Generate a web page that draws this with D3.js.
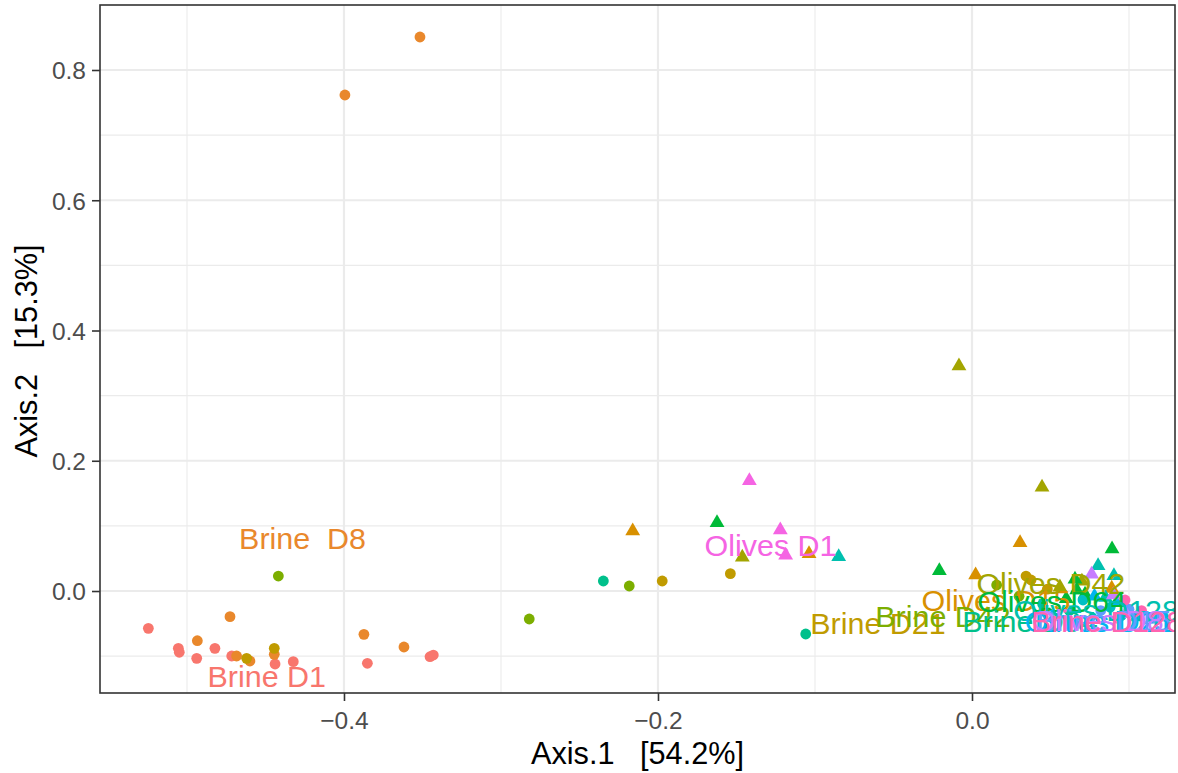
<!DOCTYPE html>
<html>
<head>
<meta charset="utf-8">
<script src="https://cdn.jsdelivr.net/npm/d3@7"></script>
<style>
  html, body { margin: 0; padding: 0; background: #ffffff; }
  svg { display: block; font-family: "Liberation Sans", Arial, Helvetica, sans-serif; }
</style>
</head>
<body>
<svg id="chart" width="1178" height="773"></svg>
<script>
// ---------------- data ----------------
const groupNames = ["Brine D1", "Brine D8", "Olives D15", "Brine D21", "Olives D42", "Brine D42",
  "Olives D64", "Brine D64", "Olives D128", "Brine D28", "Olives D21", "Brine D15",
  "Olives D8", "Olives D1", "Brine D128"];

const brineD1 = [[-0.5246,-0.0573],[-0.5055,-0.0880],[-0.5049,-0.0940],[-0.4938,-0.1034],[-0.4822,-0.0880],
  [-0.4715,-0.0998],[-0.4439,-0.1121],[-0.4323,-0.1085],[-0.3851,-0.1110],[-0.3452,-0.1009],[-0.3431,-0.0983]];
const brineD8 = [[-0.3994,0.7616],[-0.3516,0.8507],[-0.4726,-0.0394],[-0.4934,-0.0763],[-0.4684,-0.0998],
  [-0.4599,-0.1075],[-0.4444,-0.0972],[-0.3873,-0.0665],[-0.3618,-0.0860]];
const olivesD15 = [[-0.2161,0.0921],[-0.1038,0.0573],[0.0306,0.0742],[0.0023,0.0246],[0.0890,0.0040]];
const brineD21 = [[-0.4620,-0.1034],[-0.4444,-0.0880],[-0.1973,0.0154],[-0.1539,0.0266],[0.0344,0.0230],[0.0376,0.0169],[0.0480,0.0030]];
const olivesD42 = [[-0.1463,0.0517],[-0.0083,0.3455],[0.0446,0.1592],[0.0700,0.0150],[0.0560,0.0060]];
const brineD42 = [[-0.4418,0.0230],[-0.2183,0.0077],[-0.2820,-0.0430],[0.0157,0.0092],[0.0300,-0.0080]];
const olivesD64 = [[-0.1624,0.1049],[0.0892,0.0645],[-0.0208,0.0312],[0.0656,0.0180],[0.0667,0.0015],[0.0720,-0.0050],[0.0600,-0.0120]];
const brineD64 = [[-0.2348,0.0154],[-0.1059,-0.0660],[0.0450,-0.0200],[0.0620,-0.0300]];
const olivesD128 = [[-0.0849,0.0527],[0.0803,0.0389],[0.0904,0.0235],[0.0850,-0.0100]];
const brineD28 = [[0.0707,-0.0138],[0.0880,-0.0250],[0.0950,-0.0380]];
const olivesD21 = [[0.0780,-0.0080],[0.0920,-0.0180],[0.1050,-0.0400]];
const brineD15 = [[0.0820,-0.0300],[0.1000,-0.0280],[0.1150,-0.0420]];
const olivesD8 = [[0.0762,0.0256],[0.0900,-0.0060],[0.0980,-0.0350]];
const olivesD1 = [[-0.1418,0.1694],[-0.1221,0.0937],[-0.1187,0.0548]];
const brineD128 = [[0.0975,-0.0138],[0.0930,-0.0420],[0.1080,-0.0300]];

const groupPoints = [brineD1, brineD8, olivesD15, brineD21, olivesD42, brineD42, olivesD64, brineD64,
  olivesD128, brineD28, olivesD21, brineD15, olivesD8, olivesD1, brineD128];

const labelTexts = ["Brine D1", "Brine  D8", "Olives D15", "Brine D21", "Olives D42", "Brine D42",
  "Olives D64", "Brine D64", "Olives D128", "Brine D28", "Olives D21", "Brine D15",
  "Olives D8", "Olives D1", "Brine D128"];
const labelX = [-0.4492, -0.4264, 0.0153, -0.0599, 0.0502, -0.0185, 0.0508, 0.0369, 0.0790, 0.0830, 0.0810, 0.0840, 0.0800, -0.1283, 0.0860];
const labelY = [-0.1316, 0.0802, -0.0154, -0.0507, 0.0107, -0.0400, -0.0169, -0.0471, -0.0295, -0.0460, -0.0465, -0.0460, -0.0455, 0.0694, -0.0465];

const xTicks = [-0.4, -0.2, 0.0];
const xMinor = [-0.5, -0.3, -0.1, 0.1];
const yTicks = [0.0, 0.2, 0.4, 0.6, 0.8];
const yMinor = [-0.1, 0.1, 0.3, 0.5, 0.7];
const xTitle = "Axis.1   [54.2%]";
const yTitle = "Axis.2   [15.3%]";

// ---------------- styles ----------------
const groupColors = ["#F8766D", "#E9882C", "#D89000", "#C09B00", "#A3A500", "#7CAE00",
  "#00BA38", "#00C08B", "#00C0AF", "#00BFC4", "#00B4F0", "#619CFF",
  "#C77CFF", "#F564E3", "#FF64B0"];

// ---------------- drawing ----------------
const svg = d3.select("#chart");
const P = { left: 100, right: 1175, top: 5, bottom: 693 };

const x = d3.scaleLinear().domain([-0.5554, 0.1293]).range([P.left, P.right]);
const y = d3.scaleLinear().domain([-0.1566, 0.8998]).range([P.bottom, P.top]);

svg.append("defs").append("clipPath").attr("id", "panel")
  .append("rect").attr("x", P.left).attr("y", P.top)
  .attr("width", P.right - P.left).attr("height", P.bottom - P.top);

const grid = svg.append("g");
grid.selectAll(".xminor").data(xMinor).join("line")
  .attr("x1", d => x(d)).attr("x2", d => x(d)).attr("y1", P.top).attr("y2", P.bottom)
  .attr("stroke", "#EBEBEB").attr("stroke-width", 1.1);
grid.selectAll(".yminor").data(yMinor).join("line")
  .attr("y1", d => y(d)).attr("y2", d => y(d)).attr("x1", P.left).attr("x2", P.right)
  .attr("stroke", "#EBEBEB").attr("stroke-width", 1.1);
grid.selectAll(".xmajor").data(xTicks).join("line")
  .attr("x1", d => x(d)).attr("x2", d => x(d)).attr("y1", P.top).attr("y2", P.bottom)
  .attr("stroke", "#EBEBEB").attr("stroke-width", 2.2);
grid.selectAll(".ymajor").data(yTicks).join("line")
  .attr("y1", d => y(d)).attr("y2", d => y(d)).attr("x1", P.left).attr("x2", P.right)
  .attr("stroke", "#EBEBEB").attr("stroke-width", 2.2);

const plot = svg.append("g").attr("clip-path", "url(#panel)");

const rows = [];
groupPoints.forEach((pts, gi) => pts.forEach(p => rows.push({ g: gi, x: p[0], y: p[1] })));

const tri = d3.symbol().type(d3.symbolTriangle).size(95);
rows.forEach(r => {
  const isOlive = groupNames[r.g].startsWith("Olives");
  if (isOlive) {
    plot.append("path").attr("d", tri)
      .attr("transform", `translate(${x(r.x)},${y(r.y)})`)
      .attr("fill", groupColors[r.g]);
  } else {
    plot.append("circle").attr("cx", x(r.x)).attr("cy", y(r.y)).attr("r", 5.4)
      .attr("fill", groupColors[r.g]);
  }
});

const LFS = 29;
labelTexts.forEach((t, i) => {
  plot.append("text")
    .attr("transform", `translate(${x(labelX[i])},${y(labelY[i]) + 0.358 * LFS}) scale(1.05,1)`)
    .attr("text-anchor", "middle")
    .attr("font-size", LFS)
    .attr("fill", groupColors[i])
    .style("white-space", "pre")
    .attr("xml:space", "preserve")
    .text(t);
});

// panel border
svg.append("rect").attr("x", P.left).attr("y", P.top)
  .attr("width", P.right - P.left).attr("height", P.bottom - P.top)
  .attr("fill", "none").attr("stroke", "#333333").attr("stroke-width", 1.6);

// axes
const fmt = d3.format(".1f");
const xAxis = svg.append("g").attr("transform", `translate(0,${P.bottom})`)
  .call(d3.axisBottom(x).tickValues(xTicks).tickFormat(fmt).tickSizeOuter(0).tickSize(8).tickPadding(6));
const yAxis = svg.append("g").attr("transform", `translate(${P.left},0)`)
  .call(d3.axisLeft(y).tickValues(yTicks).tickFormat(fmt).tickSizeOuter(0).tickSize(8).tickPadding(6));
[xAxis, yAxis].forEach(a => {
  a.select(".domain").remove();
  a.selectAll(".tick line").attr("stroke", "#333333").attr("stroke-width", 1.6);
  a.selectAll(".tick text").attr("fill", "#4D4D4D").attr("font-size", 24.5)
    .attr("font-family", "Liberation Sans, Arial, sans-serif");
});
xAxis.selectAll(".tick text").attr("dy", null).attr("y", 36);
yAxis.selectAll(".tick text").attr("dy", null).attr("y", 0.358 * 24.5).attr("x", -14);

svg.append("text").attr("x", (P.left + P.right) / 2).attr("y", 764)
  .attr("text-anchor", "middle").attr("font-size", 31).attr("fill", "#000")
  .attr("textLength", 213).attr("lengthAdjust", "spacingAndGlyphs")
  .attr("xml:space", "preserve").style("white-space", "pre").text(xTitle);
svg.append("text").attr("transform", `translate(36.5,${(P.top + P.bottom) / 2 + 2}) rotate(-90)`)
  .attr("text-anchor", "middle").attr("font-size", 31).attr("fill", "#000")
  .attr("textLength", 213).attr("lengthAdjust", "spacingAndGlyphs")
  .attr("xml:space", "preserve").style("white-space", "pre").text(yTitle);
</script>
</body>
</html>
